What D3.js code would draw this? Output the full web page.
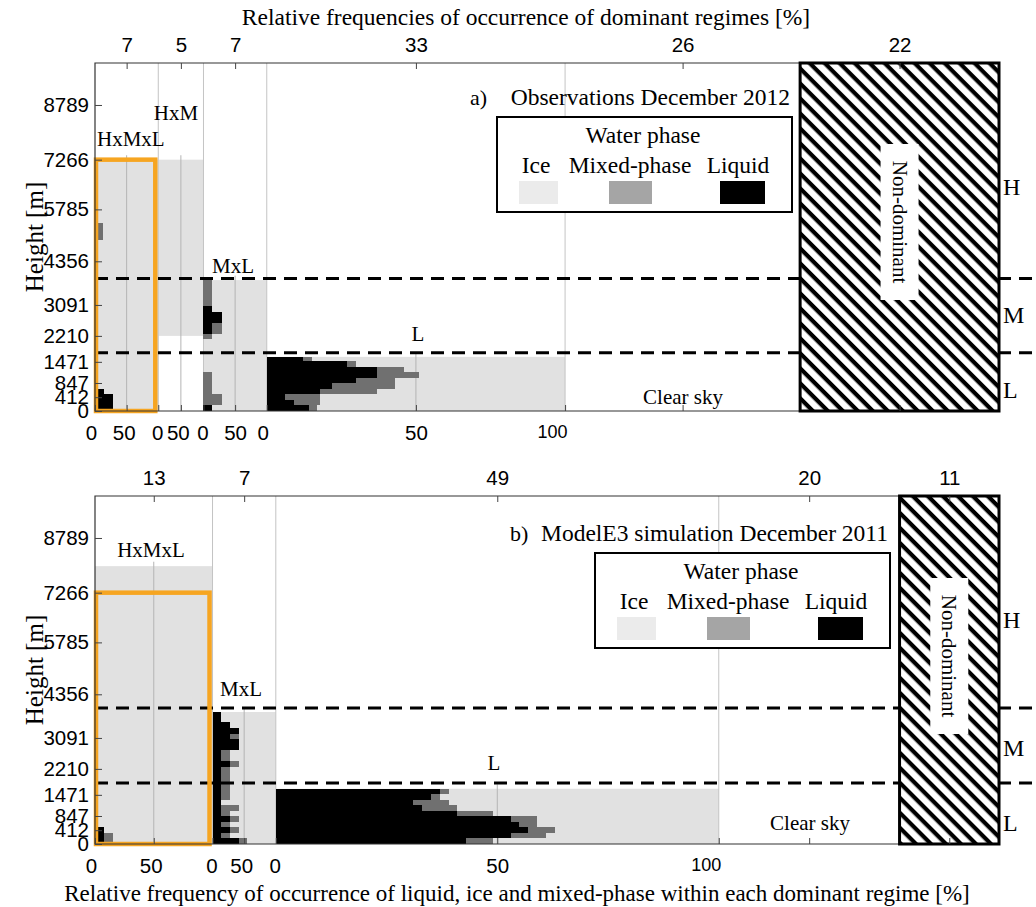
<!DOCTYPE html>
<html>
<head>
<meta charset="utf-8">
<script src="https://cdn.jsdelivr.net/npm/d3@7"></script>
<style>
body { margin: 0; background: #fff; }
svg { font-family: "Liberation Serif", "Times New Roman", serif; }
</style>
</head>
<body>
<div id="chart"></div>
<script>
// dominant regimes and their frequency of occurrence [%]
var regimesA = ["HxMxL", "HxM", "MxL", "L", "Clear sky", "Non-dominant"]
var freqA = [7, 5, 7, 33, 26, 22]
var regimesB = ["HxMxL", "MxL", "L", "Clear sky", "Non-dominant"]
var freqB = [13, 7, 49, 20, 11]

// height axis: labels and where they sit on the level grid
var heightTicks = [0, 412, 847, 1471, 2210, 3091, 4356, 5785, 7266, 8789]
var tickLevels = [0, 2.5, 5.07, 8.9, 13.6, 19.2, 27.1, 36.5, 45.5, 55.4]
var nLevels = 63
var innerTicks = [0, 50, 100]

// vertical extent of ice-filled part of each cloudy regime [bottom, top] in levels
var iceA = [[0, 45.5], [13.6, 45.5], [0, 23.7], [0, 9.8]]
var iceB = [[0, 50.3], [0, 23.9], [0, 10]]

// rows: [level, liquid %, mixed-phase %]  (rest of the row is ice)
var rowsA_HxMxL = [[0, 28, 0], [1, 28, 0], [2, 28, 0], [3, 14, 0], [31, 0, 12], [32, 0, 12], [33, 0, 12]]
var rowsA_HxM = []
var rowsA_MxL = [[0, 14, 0], [1, 0, 30], [2, 0, 30], [3, 0, 14], [4, 0, 14], [5, 0, 14], [6, 0, 14],
  [13, 0, 14], [14, 14, 16], [15, 14, 16], [16, 30, 0], [17, 30, 0], [18, 14, 0],
  [19, 0, 14], [20, 0, 14], [21, 0, 14], [22, 0, 14], [23, 0, 14]]
var rowsA_L = [[0, 14, 3], [1, 9, 9], [2, 6, 12], [3, 18, 19], [4, 22, 21], [5, 30, 13],
  [6, 37, 14], [7, 37, 9], [8, 27, 3], [9, 12, 3]]

var rowsB_HxMxL = [[0, 8, 7], [1, 8, 7], [2, 8, 0]]
var rowsB_MxL = [[0, 42, 13], [1, 13, 15], [2, 28, 14], [3, 13, 15], [4, 28, 14], [5, 13, 15],
  [6, 13, 29], [7, 13, 0], [8, 13, 15], [9, 13, 15], [10, 13, 15], [11, 13, 15], [12, 13, 15],
  [13, 13, 15], [14, 28, 14], [15, 13, 15], [16, 13, 15], [17, 42, 0], [18, 42, 0],
  [19, 28, 14], [20, 42, 0], [21, 28, 0], [22, 13, 0], [23, 13, 0]]
var rowsB_L = [[0, 43, 6], [1, 53, 8], [2, 57, 6], [3, 55, 4], [4, 53, 6], [5, 41, 8],
  [6, 33, 8], [7, 31, 8], [8, 35, 2], [9, 37, 2]]

// H/M and M/L layer boundaries (levels)
var boundsA = [10.55, 24.0]
var boundsB = [11.05, 24.6]
var layerNames = ["L", "M", "H"]
var layerLevels = [3.9, 17.5, 40.6]

var phaseNames = ["Ice", "Mixed-phase", "Liquid"]

var colIce = "#e1e1e1",
    colMixed = "#707070",
    colLiquid = "#000000",
    colOrange = "#f6a521",
    fs = 20.5

var svg = d3.select("#chart").append("svg")
    .attr("width", 1036)
    .attr("height", 907)

var defs = svg.append("defs")
var pat = defs.append("pattern")
    .attr("id", "hatch")
    .attr("patternUnits", "userSpaceOnUse")
    .attr("width", 10.6).attr("height", 10.6)
    .attr("patternTransform", "rotate(45)")
pat.append("rect").attr("width", 10.6).attr("height", 10.6).attr("fill", "#fff")
pat.append("rect").attr("width", 10.6).attr("height", 4.2).attr("fill", "#000")

var xs = d3.scaleLinear().domain([0, 100]).range([95, 999])

function drawPanel(cfg) {
    var g = svg.append("g")
    var ys = d3.scaleLinear().domain([0, nLevels]).range([cfg.bottom, cfg.top])

    var starts = [], acc = 0
    cfg.freq.forEach(function(f) { starts.push(acc); acc += f })
    var nData = cfg.ice.length
    var ndStart = starts[starts.length - 1]

    function colX(i, v) { return xs(starts[i] + cfg.freq[i] * v / 100) }

    // ice background
    g.selectAll(".ice").data(cfg.ice).join("rect")
        .attr("x", function(d, i) { return colX(i, 0) })
        .attr("width", function(d, i) { return colX(i, 100) - colX(i, 0) })
        .attr("y", function(d) { return ys(d[1]) })
        .attr("height", function(d) { return ys(d[0]) - ys(d[1]) })
        .attr("fill", colIce)

    // grid lines: column boundaries and 50% marks
    var bounds = starts.slice(1, starts.length - 1)
    g.selectAll(".gb").data(bounds).join("line")
        .attr("x1", function(d) { return xs(d) }).attr("x2", function(d) { return xs(d) })
        .attr("y1", cfg.top).attr("y2", cfg.bottom)
        .attr("stroke", "#c4c4c4").attr("stroke-width", 1)
    g.selectAll(".gc").data(cfg.ice).join("line")
        .attr("x1", function(d, i) { return colX(i, 50) }).attr("x2", function(d, i) { return colX(i, 50) })
        .attr("y1", function(d) { return ys(d[1] + 0.8) }).attr("y2", cfg.bottom)
        .attr("stroke", "#b4b4b4").attr("stroke-width", 1)

    // liquid and mixed-phase rows
    cfg.rows.forEach(function(rows, i) {
        var top = cfg.ice[i][1]
        var gg = g.append("g").attr("shape-rendering", "crispEdges")
        function ry(r) { return Math.round(ys(Math.min(r[0] + 1, top))) }
        function rh(r) { return Math.round(ys(r[0])) - ry(r) }
        gg.selectAll(".liq").data(rows.filter(function(r) { return r[1] > 0 })).join("rect")
            .attr("x", colX(i, 0))
            .attr("width", function(r) { return colX(i, r[1]) - colX(i, 0) })
            .attr("y", ry).attr("height", rh)
            .attr("fill", colLiquid)
        gg.selectAll(".mix").data(rows.filter(function(r) { return r[2] > 0 })).join("rect")
            .attr("x", function(r) { return colX(i, r[1]) })
            .attr("width", function(r) { return colX(i, r[1] + r[2]) - colX(i, r[1]) })
            .attr("y", ry).attr("height", rh)
            .attr("fill", colMixed)
    })

    // layer boundaries
    g.selectAll(".bnd").data(cfg.bounds).join("line")
        .attr("x1", xs(0)).attr("x2", 1032)
        .attr("y1", function(d) { return ys(d) }).attr("y2", function(d) { return ys(d) })
        .attr("stroke", "#000").attr("stroke-width", 3).attr("stroke-dasharray", "13,8")

    // orange box round the HxMxL regime
    g.append("rect")
        .attr("x", colX(0, 0) + 1)
        .attr("width", colX(0, 100) - colX(0, 0) - 4)
        .attr("y", ys(tickLevels[heightTicks.indexOf(7266)]))
        .attr("height", ys(0) - ys(tickLevels[heightTicks.indexOf(7266)]))
        .attr("fill", "none").attr("stroke", colOrange).attr("stroke-width", 4.5)

    // frame
    g.append("path")
        .attr("d", "M" + xs(ndStart) + "," + cfg.top + "H" + xs(0) + "V" + cfg.bottom + "H" + xs(ndStart))
        .attr("fill", "none").attr("stroke", "#333").attr("stroke-width", 1.2)

    // non-dominant hatch
    g.append("rect")
        .attr("x", xs(ndStart)).attr("width", xs(100) - xs(ndStart))
        .attr("y", cfg.top).attr("height", cfg.bottom - cfg.top)
        .attr("fill", "url(#hatch)").attr("stroke", "#000").attr("stroke-width", 3)
    var ndx = (xs(ndStart) + xs(100)) / 2
    g.append("rect")
        .attr("x", ndx - 19).attr("width", 38)
        .attr("y", cfg.ndY - 78).attr("height", 156)
        .attr("fill", "#fff")
    g.append("text")
        .attr("transform", "translate(" + (ndx - 7) + "," + cfg.ndY + ") rotate(90)")
        .attr("text-anchor", "middle")
        .attr("font-size", 21)
        .text(cfg.names[cfg.names.length - 1])

    // left axis
    var ay = g.append("g").attr("transform", "translate(" + xs(0) + ",0)")
        .call(d3.axisLeft(ys).tickValues(tickLevels)
            .tickFormat(function(d, i) { return heightTicks[i] })
            .tickSizeInner(-7).tickSizeOuter(0).tickPadding(6))
    ay.select(".domain").remove()
    ay.selectAll("line").attr("stroke", "#444")
    ay.selectAll("text").attr("font-size", fs).attr("font-family", null).attr("fill", "#000")

    // top axis: regime frequencies at column centres
    var centers = cfg.freq.map(function(f, i) { return starts[i] + f / 2 })
    var at = g.append("g").attr("transform", "translate(0," + cfg.top + ")")
        .call(d3.axisTop(xs).tickValues(centers)
            .tickFormat(function(d, i) { return cfg.freq[i] })
            .tickSizeInner(-6).tickSizeOuter(0).tickPadding(11))
    at.select(".domain").remove()
    at.selectAll("line").attr("stroke", "#444")
    at.selectAll("text").attr("font-size", fs).attr("font-family", null).attr("fill", "#000")

    // bottom axis: relative frequency inside each cloudy regime
    var bv = [], bl = []
    for (var i = 0; i < nData; i++) {
        var tk = i == nData - 1 ? innerTicks : innerTicks.slice(0, 2)
        tk.forEach(function(t) {
            bv.push(starts[i] + cfg.freq[i] * t / 100)
            bl.push(t)
        })
    }
    var ab = g.append("g").attr("transform", "translate(0," + cfg.bottom + ")")
        .call(d3.axisBottom(xs).tickValues(bv.concat(centers.slice(nData)))
            .tickFormat(function(d, i) { return i < bl.length ? bl[i] : "" })
            .tickSizeInner(-6).tickSizeOuter(0).tickPadding(14))
    ab.select(".domain").remove()
    ab.selectAll("line").attr("stroke", "#444")
    ab.selectAll("text").attr("font-size", fs).attr("font-family", null).attr("fill", "#000")
        .attr("dx", function(d, i) { return bl[i] === 0 ? (i > 0 && i < 6 ? -1 : -4) : (bl[i] === 50 && i < 4 ? -3 : 0) })
    ab.selectAll("text").filter(function(d, i) { return bl[i] === 100 })
        .attr("text-anchor", "end").attr("font-size", 18).attr("dx", 2)

    // regime names
    cfg.labels.forEach(function(l) {
        g.append("text").attr("x", l[1]).attr("y", l[2]).attr("dy", "0.35em")
            .attr("text-anchor", l[3] || "middle")
            .attr("font-size", 21).text(l[0])
    })

    // layer names on the right
    g.selectAll(".lay").data(layerNames).join("text")
        .attr("x", 1003).attr("y", function(d, i) { return ys(layerLevels[i]) })
        .attr("dy", "0.35em").attr("font-size", 24).text(function(d) { return d })

    // panel title
    g.append("text").attr("x", cfg.title[1]).attr("y", cfg.title[2]).attr("dy", "0.35em")
        .attr("font-size", 22).text(cfg.title[0])
    g.append("text").attr("x", cfg.title[3]).attr("y", cfg.title[2]).attr("dy", "0.35em")
        .attr("text-anchor", "end").attr("font-size", 23.5).text(cfg.title[4])

    // y title
    g.append("text")
        .attr("transform", "translate(34," + (ys(0) + ys(nLevels)) / 2 + ") rotate(-90)")
        .attr("text-anchor", "middle").attr("dy", "0.35em")
        .attr("font-size", 25).text("Height [m]")

    drawLegend(cfg.legend[0], cfg.legend[1])
}

function drawLegend(x0, y0) {
    var g = svg.append("g").attr("transform", "translate(" + x0 + "," + y0 + ")")
    g.append("rect").attr("width", 295).attr("height", 95)
        .attr("fill", "#fff").attr("stroke", "#000").attr("stroke-width", 2)
    g.append("text").attr("x", 146).attr("y", 18).attr("dy", "0.35em")
        .attr("text-anchor", "middle").attr("font-size", 23.5).text("Water phase")
    var lx = [39, 133, 241],
        sx = [[22, 39], [112, 43], [223, 45]],
        sc = ["#ebebeb", "#a5a5a5", "#000"]
    g.selectAll(".ln").data(phaseNames).join("text")
        .attr("x", function(d, i) { return lx[i] }).attr("y", 48).attr("dy", "0.35em")
        .attr("text-anchor", "middle").attr("font-size", 23.5).text(function(d) { return d })
    g.selectAll(".sw").data(phaseNames).join("rect")
        .attr("x", function(d, i) { return sx[i][0] }).attr("width", function(d, i) { return sx[i][1] })
        .attr("y", 64).attr("height", 23)
        .attr("fill", function(d, i) { return sc[i] })
}

drawPanel({
    top: 63, bottom: 411, freq: freqA, names: regimesA, ice: iceA,
    rows: [rowsA_HxMxL, rowsA_HxM, rowsA_MxL, rowsA_L], bounds: boundsA,
    labels: [["HxMxL", 97, 139, "start"], ["HxM", 176, 113], ["MxL", 233, 266], ["L", 418, 334], ["Clear sky", 683, 397]],
    title: ["a)", 470, 97, 790, "Observations December 2012"],
    legend: [497, 117], ndY: 222
})

drawPanel({
    top: 496, bottom: 844, freq: freqB, names: regimesB, ice: iceB,
    rows: [rowsB_HxMxL, rowsB_MxL, rowsB_L], bounds: boundsB,
    labels: [["HxMxL", 151, 550], ["MxL", 241, 689], ["L", 494, 763], ["Clear sky", 810, 823]],
    title: ["b)", 510, 533, 888, "ModelE3 simulation December 2011"],
    legend: [595, 553], ndY: 656
})

// axis titles
svg.append("text").attr("x", 526).attr("y", 17).attr("dy", "0.35em")
    .attr("text-anchor", "middle").attr("font-size", 23.5)
    .text("Relative frequencies of occurrence of dominant regimes [%]")
svg.append("text").attr("x", 517).attr("y", 893).attr("dy", "0.35em")
    .attr("text-anchor", "middle").attr("font-size", 23)
    .text("Relative frequency of occurrence of liquid, ice and mixed-phase within each dominant regime [%]")
</script>
</body>
</html>
